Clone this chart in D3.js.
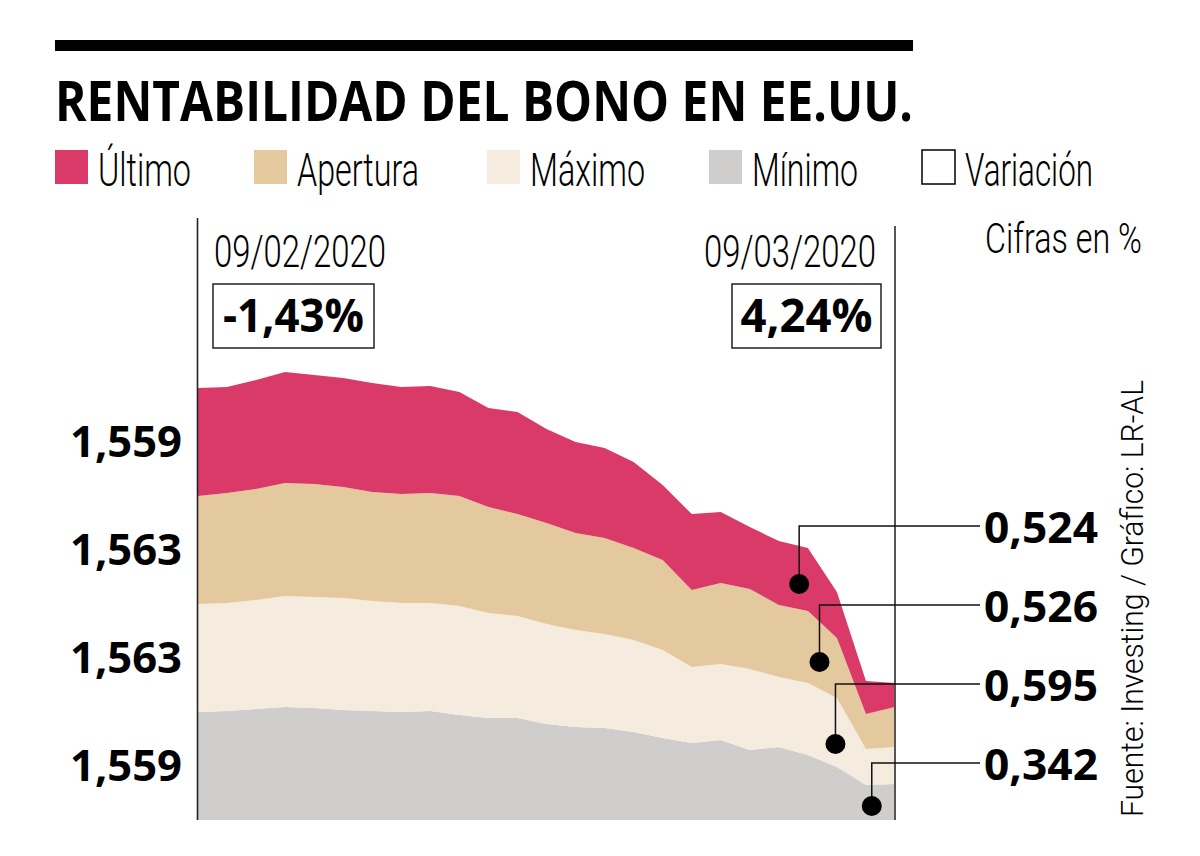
<!DOCTYPE html>
<html>
<head>
<meta charset="utf-8">
<script src="https://cdn.jsdelivr.net/npm/d3@7"></script>
<style>
  body { margin: 0; background: #fff; }
  svg { display: block; }
</style>
</head>
<body>
<svg id="chart" width="1200" height="856"></svg>
<script>
// capas del gráfico (grosor de cada banda, en la misma unidad)
let ultimo = [1.08, 1.06, 1.09, 1.11, 1.09, 1.09, 1.09, 1.07, 1.07, 1.04, 0.99, 1.02, 0.94,
  0.91, 0.90, 0.86, 0.75, 0.76, 0.71, 0.62, 0.64, 0.63, 0.46, 0.33, 0.24]
let apertura = [1.08, 1.10, 1.11, 1.13, 1.13, 1.11, 1.09, 1.09, 1.10, 1.10, 1.06, 1.02, 1.01,
  0.97, 0.96, 0.92, 0.90, 0.77, 0.81, 0.80, 0.72, 0.72, 0.60, 0.35, 0.40]
let maximo = [1.08, 1.08, 1.09, 1.11, 1.11, 1.12, 1.10, 1.09, 1.08, 1.09, 1.05, 1.02, 1.00,
  0.97, 0.94, 0.92, 0.88, 0.76, 0.76, 0.81, 0.70, 0.72, 0.69, 0.36, 0.37]
let minimo = [1.08, 1.09, 1.11, 1.13, 1.12, 1.10, 1.09, 1.08, 1.09, 1.05, 1.02, 1.02, 0.96,
  0.93, 0.92, 0.88, 0.82, 0.77, 0.80, 0.70, 0.73, 0.65, 0.53, 0.35, 0.36]

let keys = ['minimo', 'maximo', 'apertura', 'ultimo']
let colors = { ultimo: '#da3a68', apertura: '#e4c99e', maximo: '#f5ebdf', minimo: '#cfcecd' }

let legendNames = ['Último', 'Apertura', 'Máximo', 'Mínimo', 'Variación']
let legendKeys = ['ultimo', 'apertura', 'maximo', 'minimo', 'variacion']

let dates = ['09/02/2020', '09/03/2020']
let variations = ['-1,43%', '4,24%']

// etiquetas de inicio (izquierda) y fin (derecha) por banda
let startLabels = { ultimo: '1,559', apertura: '1,563', maximo: '1,563', minimo: '1,559' }
let endLabels = ['0,524', '0,526', '0,595', '0,342']
let endKeys = ['ultimo', 'apertura', 'maximo', 'minimo']
// posición de los puntos marcados (índice de día, valor acumulado)
let dotIdx = [20.7, 21.4, 21.95, 23.2]
let dotVal = [2.36, 1.58, 0.76, 0.14]

let svg = d3.select('#chart')
let light = 'Roboto, "Open Sans", sans-serif'
let bold = '"Open Sans", "DejaVu Sans", sans-serif'

let x = d3.scaleLinear().domain([0, ultimo.length - 1]).range([198, 895])
let y = d3.scaleLinear().domain([0, 4.4]).range([820, 380])

let table = ultimo.map(function (v, i) {
  return { ultimo: v, apertura: apertura[i], maximo: maximo[i], minimo: minimo[i] }
})
let series = d3.stack().keys(keys)(table)

let area = d3.area()
  .x(function (d, i) { return x(i) })
  .y0(function (d) { return y(d[0]) })
  .y1(function (d) { return y(d[1]) })

// top bar + title
svg.append('rect').attr('x', 55).attr('y', 40).attr('width', 858).attr('height', 11).attr('fill', '#000')
svg.append('text')
  .attr('x', 55).attr('y', 121)
  .attr('font-family', bold).attr('font-weight', 700).attr('font-size', 55)
  .attr('textLength', 858).attr('lengthAdjust', 'spacingAndGlyphs')
  .text('RENTABILIDAD DEL BONO EN EE.UU.')

// legend
let legX = [55, 254, 487, 709, 922]
let legW = [93, 122, 115, 106, 128]
let leg = svg.selectAll('.leg').data(legendKeys).enter().append('g').attr('class', 'leg')
leg.append('rect')
  .attr('x', function (d, i) { return legX[i] }).attr('y', 150)
  .attr('width', 33).attr('height', 34)
  .attr('fill', function (d) { return colors[d] || '#fff' })
  .attr('stroke', function (d) { return d === 'variacion' ? '#000' : 'none' })
  .attr('stroke-width', 1.5)
leg.append('text')
  .attr('x', function (d, i) { return legX[i] + 43 }).attr('y', 186)
  .attr('font-family', light).attr('font-weight', 300).attr('font-size', 46)
  .attr('textLength', function (d, i) { return legW[i] }).attr('lengthAdjust', 'spacingAndGlyphs')
  .text(function (d, i) { return legendNames[i] })

svg.append('text')
  .attr('x', 1142).attr('y', 253).attr('text-anchor', 'end')
  .attr('font-family', light).attr('font-weight', 300).attr('font-size', 43)
  .attr('textLength', 157).attr('lengthAdjust', 'spacingAndGlyphs')
  .text('Cifras en %')

// areas
svg.selectAll('.layer').data(series).enter().append('path')
  .attr('class', 'layer')
  .attr('fill', function (d) { return colors[d.key] })
  .attr('d', area)

// vertical lines at start and end
svg.append('line').attr('x1', x(0) - 0.5).attr('x2', x(0) - 0.5).attr('y1', 218).attr('y2', 820)
  .attr('stroke', '#222').attr('stroke-width', 1.6)
svg.append('line').attr('x1', x(ultimo.length - 1)).attr('x2', x(ultimo.length - 1)).attr('y1', 226).attr('y2', 820)
  .attr('stroke', '#555').attr('stroke-width', 2)

// dates and variation boxes
svg.selectAll('.date').data(dates).enter().append('text')
  .attr('class', 'date')
  .attr('x', function (d, i) { return i === 0 ? 214 : 876 })
  .attr('y', 267)
  .attr('text-anchor', function (d, i) { return i === 0 ? 'start' : 'end' })
  .attr('font-family', light).attr('font-weight', 300).attr('font-size', 45)
  .attr('textLength', 172).attr('lengthAdjust', 'spacingAndGlyphs')
  .text(function (d) { return d })

let boxX = [213, 732]
let boxW = [161, 149]
svg.selectAll('.vbox').data(variations).enter().append('rect')
  .attr('class', 'vbox')
  .attr('x', function (d, i) { return boxX[i] }).attr('y', 284)
  .attr('width', function (d, i) { return boxW[i] }).attr('height', 64)
  .attr('fill', 'none').attr('stroke', '#222').attr('stroke-width', 1.5)
svg.selectAll('.vtext').data(variations).enter().append('text')
  .attr('class', 'vtext')
  .attr('x', function (d, i) { return boxX[i] + boxW[i] / 2 }).attr('y', 332)
  .attr('text-anchor', 'middle')
  .attr('font-family', bold).attr('font-weight', 700).attr('font-size', 46)
  .attr('textLength', function (d, i) { return i === 0 ? 141 : 132 }).attr('lengthAdjust', 'spacingAndGlyphs')
  .text(function (d) { return d })

// start labels, centred on each band at the first day
svg.selectAll('.startLab').data(series).enter().append('text')
  .attr('class', 'startLab')
  .attr('x', 182)
  .attr('y', function (d) { return y((d[0][0] + d[0][1]) / 2) + 15 })
  .attr('text-anchor', 'end')
  .attr('font-family', bold).attr('font-weight', 700).attr('font-size', 43)
  .attr('textLength', 112).attr('lengthAdjust', 'spacingAndGlyphs')
  .text(function (d) { return startLabels[d.key] })

// end annotations with leader lines
let rowY = [526, 605, 684, 763]
let ann = svg.selectAll('.ann').data(endKeys).enter().append('g').attr('class', 'ann')
ann.append('path')
  .attr('d', function (d, i) {
    return 'M' + x(dotIdx[i]) + ',' + y(dotVal[i]) + 'V' + rowY[i] + 'H980'
  })
  .attr('fill', 'none').attr('stroke', '#111').attr('stroke-width', 1.5)
ann.append('circle')
  .attr('cx', function (d, i) { return x(dotIdx[i]) })
  .attr('cy', function (d, i) { return y(dotVal[i]) })
  .attr('r', 10).attr('fill', '#000')
ann.append('text')
  .attr('x', 984).attr('y', function (d, i) { return rowY[i] + 17 })
  .attr('font-family', bold).attr('font-weight', 700).attr('font-size', 43)
  .attr('textLength', 114).attr('lengthAdjust', 'spacingAndGlyphs')
  .text(function (d, i) { return endLabels[i] })

// source, rotated
svg.append('text')
  .attr('transform', 'translate(1143,817) rotate(-90)')
  .attr('font-family', light).attr('font-weight', 300).attr('font-size', 32)
  .attr('textLength', 437).attr('lengthAdjust', 'spacingAndGlyphs')
  .text('Fuente: Investing / Gráfico: LR-AL')
</script>
</body>
</html>
